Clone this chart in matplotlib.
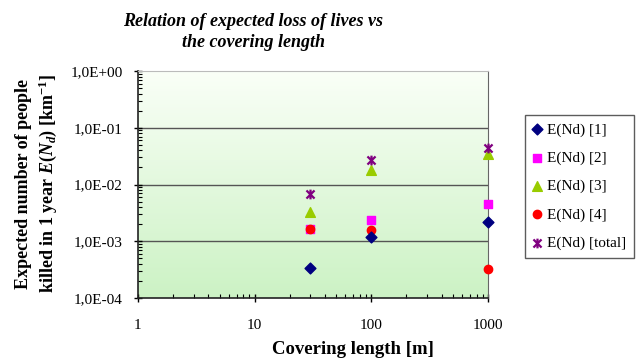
import numpy as np
import matplotlib
matplotlib.use('Agg')
import matplotlib.pyplot as plt
from matplotlib.path import Path
from matplotlib.ticker import FixedLocator, LogLocator, NullFormatter

plt.rcParams['font.family'] = ['Liberation Serif', 'DejaVu Serif']
plt.rcParams['mathtext.fontset'] = 'custom'
plt.rcParams['mathtext.rm'] = 'Liberation Serif:bold'
plt.rcParams['mathtext.it'] = 'Liberation Serif:italic:bold'
plt.rcParams['mathtext.bf'] = 'Liberation Serif:bold'

# data
lengths = [30, 100, 1000]
end_1 = [3.4e-4, 1.17e-3, 2.16e-3]
end_2 = [1.64e-3, 2.37e-3, 4.5e-3]
end_3 = [3.3e-3, 1.8e-2, 3.4e-2]
end_4 = [1.64e-3, 1.58e-3, 3.3e-4]
end_total = [6.8e-3, 2.7e-2, 4.4e-2]

series_labels = ['E(Nd) [1]', 'E(Nd) [2]', 'E(Nd) [3]', 'E(Nd) [4]', 'E(Nd) [total]']
y_ticks = [1e-4, 1e-3, 1e-2, 1e-1, 1e0]
y_ticklabels = ['1,0E-04', '1,0E-03', '1,0E-02', '1,0E-01', '1,0E+00']
x_ticks = [1, 10, 100, 1000]
x_ticklabels = ['1', '10', '100', '1000']

# excel style star: an X with a vertical bar
star = Path([(-1, -1), (1, 1), (-1, 1), (1, -1), (0, -1.2), (0, 1.2)],
            [Path.MOVETO, Path.LINETO, Path.MOVETO, Path.LINETO, Path.MOVETO, Path.LINETO])

fig = plt.figure(figsize=(6.4, 3.61), dpi=100)
ax = fig.add_axes([0.2156, 0.1745, 0.5469, 0.6288])

# green gradient background
grad = np.linspace(0, 1, 256).reshape(-1, 1)
top = np.array([0.98, 1.0, 0.97])
bot = np.array([0.80, 0.95, 0.77])
img = top + (bot - top) * grad[..., None]
img = img.reshape(256, 1, 3)
ax.imshow(img, extent=[0, 1, 0, 1], transform=ax.transAxes, aspect='auto', zorder=0)

ax.set_xscale('log')
ax.set_yscale('log')
ax.set_xlim(1, 1000)
ax.set_ylim(1e-4, 1)

for yv in y_ticks[1:-1]:
    ax.axhline(yv, color='#555555', lw=1.0, zorder=1)

ms = 6
ax.scatter(lengths, end_2, marker='s', s=ms**2, color='#ff00ff', zorder=3, label=series_labels[1], clip_on=False)
ax.scatter(lengths, end_4, marker='o', s=ms**2, color='#ff0000', zorder=4, label=series_labels[3], clip_on=False)
ax.scatter(lengths, end_1, marker='D', s=(ms - 0.5)**2, color='#000080', zorder=5, label=series_labels[0], clip_on=False)
ax.scatter(lengths, end_3, marker='^', s=(ms + 1)**2, color='#99cc00', zorder=3, label=series_labels[2], clip_on=False)
ax.scatter(lengths, end_total, marker=star, s=(ms + 1)**2, color='#800080', lw=1.6, zorder=6,
           label=series_labels[4], clip_on=False)

ax.yaxis.set_major_locator(FixedLocator(y_ticks))
ax.set_yticklabels(y_ticklabels, fontsize=11)
ax.yaxis.set_minor_locator(LogLocator(base=10, subs=np.arange(2, 10)))
ax.yaxis.set_minor_formatter(NullFormatter())
ax.xaxis.set_major_locator(FixedLocator(x_ticks))
ax.set_xticklabels(x_ticklabels, fontsize=11)
ax.xaxis.set_minor_locator(LogLocator(base=10, subs=np.arange(2, 10)))
ax.xaxis.set_minor_formatter(NullFormatter())
ax.tick_params(which='major', direction='inout', length=6, width=1)
ax.tick_params(axis='x', which='major', pad=12)
ax.tick_params(axis='y', which='major', pad=8)
ax.tick_params(which='minor', direction='in', length=3, width=0.8)

for s in ['left', 'bottom']:
    ax.spines[s].set_color('#222222')
    ax.spines[s].set_linewidth(1.2)
ax.spines['top'].set_color('#bbbbbb')
ax.spines['right'].set_color('#666666')

handles, labels = ax.get_legend_handles_labels()
order = [labels.index(l) for l in series_labels]
leg = fig.legend([handles[i] for i in order], [labels[i] for i in order],
                 loc='upper left', bbox_to_anchor=(525 / 640, 1 - 115 / 361),
                 fontsize=11, frameon=True, fancybox=False, edgecolor='#333333',
                 handletextpad=0.35, labelspacing=0.95, borderpad=0.5, handlelength=0.6,
                 borderaxespad=0)
leg.get_frame().set_linewidth(1.0)

fig.text(253 / 640, 1 - 32 / 361, 'Relation of expected loss of lives vs\nthe covering length',
         ha='center', va='center', fontsize=13, fontweight='bold', style='italic', linespacing=1.3)
fig.text(353 / 640, 1 - 350 / 361, 'Covering length [m]', ha='center', va='center',
         fontsize=13.5, fontweight='bold')
fig.text(37 / 640, 1 - 184 / 361,
         'Expected number of people\nkilled in 1 year $E(N_d)$ [km$^{-1}$]',
         ha='center', va='center', rotation=90, fontsize=13, fontweight='bold', linespacing=1.25)

fig.savefig('out.png', dpi=100)
